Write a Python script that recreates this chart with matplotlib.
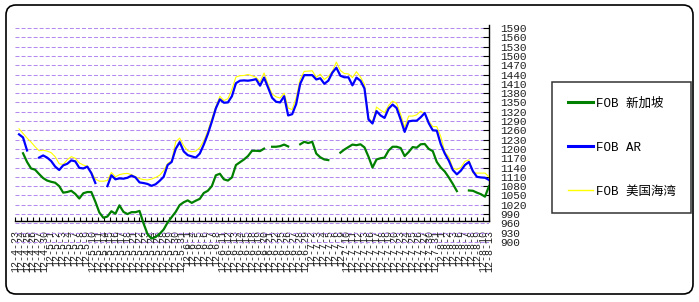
import numpy as np
import pandas as pd
import matplotlib
matplotlib.use("Agg")
import matplotlib.pyplot as plt
from matplotlib.lines import Line2D
from matplotlib.patches import FancyBboxPatch
from matplotlib.transforms import IdentityTransform
from matplotlib.font_manager import FontProperties

nan = np.nan

# ---- data ----
fob_us_gulf = [1265,1250,1235,1222,1207,1194,1196,1193,1188,1175,
               1152,1150,1165,1175,1170,1155,1148,1144,1125,1103,
               1096,1096,1098,1124,1110,1117,1120,1121,1117,1110,
               1104,1101,1100,1103,1108,1115,1130,1153,1162,1223,
               1235,1210,1194,1191,1193,1204,1226,1258,1298,1336,
               1370,1356,1362,1392,1432,1436,1437,1440,1436,1431,
               1416,1445,1408,1377,1368,1364,1380,1332,1327,1365,
               1425,1450,1451,1452,1431,1441,1424,1434,1450,1480,
               1453,1443,1442,1430,1449,1432,1408,1300,1286,1335,
               1325,1317,1340,1354,1347,1312,1270,1306,1306,1310,
               1322,1312,1290,1272,1272,1240,1190,1174,1138,1134,
               1140,1160,1165,1123,1122,1122,1122,1110]

fob_ar = [1247,1237,1195,nan,nan,1172,1179,1172,1161,1143,
          1132,1147,1152,1163,1160,1139,1137,1143,1122,1090,
          nan,nan,1080,1115,1102,1105,1104,1107,1114,1108,
          1092,1090,1087,1081,1086,1097,1110,1148,1158,1200,
          1222,1192,1180,1176,1172,1185,1214,1248,1288,1331,
          1360,1349,1350,1370,1412,1420,1421,1420,1422,1425,
          1404,1430,1398,1365,1352,1350,1370,1308,1312,1345,
          1410,1438,1438,1438,1424,1428,1410,1420,1446,1462,
          1436,1431,1431,1405,1430,1420,1395,1295,1282,1322,
          1308,1300,1330,1343,1332,1295,1255,1289,1291,1291,
          1302,1316,1283,1260,1259,1215,1185,1162,1132,1118,
          1130,1148,1158,1128,1110,1108,1107,1100]

fob_singapore = [nan,1186,1158,1137,1133,1119,1106,1098,1094,1091,
                 1080,1059,1061,1065,1055,1040,1057,1061,1061,1030,
                 995,978,982,999,991,1018,997,990,996,996,
                 1000,960,925,911,916,926,940,963,980,997,
                 1019,1028,1034,1026,1033,1039,1058,1065,1080,1115,
                 1120,1102,1098,1108,1148,1157,1166,1177,1194,1194,
                 1193,1201,nan,1207,1207,1209,1214,1208,nan,nan,
                 1215,1223,1219,1223,1185,1173,1166,1164,nan,nan,
                 1188,1198,1206,1214,1212,1215,1205,1175,1140,1166,
                 1170,1172,1195,1207,1207,1203,1177,1190,1206,1204,
                 1215,1216,1200,1193,1158,1140,1127,1108,1087,1064,
                 nan,nan,1066,1065,1059,1054,1046,1080]

series_labels = ["FOB 新加坡", "FOB AR", "FOB 美国海湾"]
y_ticks = list(range(900, 1591, 30))
tick_dates = pd.bdate_range("2012-04-23", periods=81)
x_tick_labels = [f"{d.year % 100}-{d.month}-{d.day}" for d in tick_dates]

# ---- figure ----
W, H = 699, 302
fig = plt.figure(figsize=(W / 100, H / 100), dpi=100)
fig.patch.set_facecolor("white")

ax = fig.add_axes([15 / W, 1 - 243.5 / H, (489 - 15) / W, (243.5 - 24.9) / H])
ax.set_facecolor("none")

x = np.arange(len(fob_ar))
l_us, = ax.plot(x, fob_us_gulf, color="#FFFF00", lw=0.8, zorder=3)
l_ar, = ax.plot(x, fob_ar, color="#0000FF", lw=1.6, zorder=4)
l_sg, = ax.plot(x, fob_singapore, color="#008000", lw=1.6, zorder=5)

ax.set_xlim(-1, len(x) - 1)
ax.set_ylim(895, 1600)

# axes / spines
ax.spines["left"].set_visible(False)
ax.spines["top"].set_visible(False)
ax.spines["bottom"].set_position(("data", 967))
ax.spines["right"].set_bounds(967, 1600)
for s in ("bottom", "right"):
    ax.spines[s].set_linewidth(1.0)
    ax.spines[s].set_color("black")

ax.yaxis.tick_right()
ax.set_yticks(y_ticks)
ax.set_yticklabels([str(v) for v in y_ticks])
ax.tick_params(axis="y", direction="in", length=4, width=0.8, pad=8,
               labelsize=8, labelcolor="#202020")
for t, v in zip(ax.yaxis.get_major_ticks(), y_ticks):
    if v < 967:
        t.tick2line.set_visible(False)
for lab in ax.get_yticklabels():
    lab.set_family(["Liberation Mono", "DejaVu Sans Mono"])

tick_pos = np.linspace(-1, len(x) - 1, len(x_tick_labels))
ax.set_xticks(tick_pos)
ax.set_xticklabels(x_tick_labels, rotation=90, fontsize=7.2,
                   family=["Liberation Mono", "DejaVu Sans Mono"], color="#202020")
ax.tick_params(axis="x", direction="in", length=3, width=0.8, pad=6)

ax.grid(axis="y", color="#B58AF0", linestyle=(0, (3.8, 2.0)), lw=0.75)
ax.set_axisbelow(True)

# legend
fp = FontProperties(family=["Liberation Mono", "Noto Sans CJK SC"], size=9)
handles = [Line2D([], [], color="#008000", lw=2.2),
           Line2D([], [], color="#0000FF", lw=2.2),
           Line2D([], [], color="#FFFF00", lw=1.0)]
leg = fig.legend(handles, series_labels, loc="upper left",
                 bbox_to_anchor=(552 / W, 1 - 82 / H), prop=fp,
                 frameon=True, fancybox=False, edgecolor="black",
                 borderpad=1.25, labelspacing=2.55, handlelength=2.0,
                 handletextpad=0.25, borderaxespad=0)
leg.get_frame().set_linewidth(1.1)

# outer rounded frame
frame = FancyBboxPatch((6, H - 294), 687, 289,
                       boxstyle="round,pad=0,rounding_size=10",
                       transform=IdentityTransform(), fill=False,
                       ec="black", lw=1.2)
fig.patches.append(frame)

fig.savefig("out.png", dpi=100)
